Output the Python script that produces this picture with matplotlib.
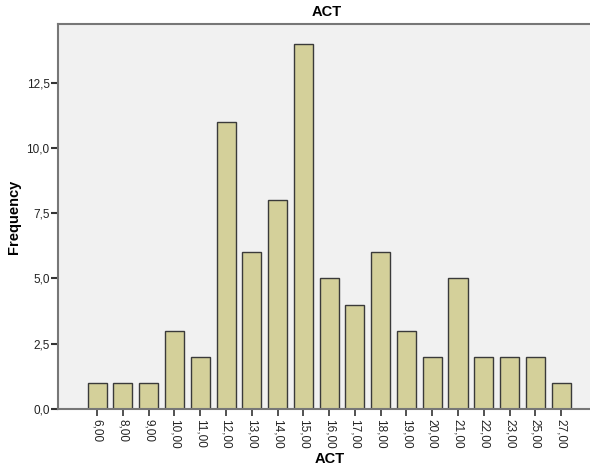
import matplotlib
matplotlib.use("Agg")
import matplotlib.pyplot as plt
from matplotlib.ticker import FuncFormatter, MultipleLocator
import numpy as np

plt.rcParams['font.family'] = ['Liberation Sans', 'DejaVu Sans']

categories = ["6,00", "8,00", "9,00", "10,00", "11,00", "12,00", "13,00", "14,00",
              "15,00", "16,00", "17,00", "18,00", "19,00", "20,00", "21,00",
              "22,00", "23,00", "25,00", "27,00"]
frequency = [1, 1, 1, 3, 2, 11, 6, 8, 14, 5, 4, 6, 3, 2, 5, 2, 2, 2, 1]
title = "ACT"
x_label = "ACT"
y_label = "Frequency"

fig = plt.figure(figsize=(5.9, 4.69), dpi=100)
ax = fig.add_axes([58/590, 60/469, 1 - 58/590 + 0.01, (409-24)/469])
ax.set_facecolor("#f1f1f1")

x = np.arange(len(categories))
ax.bar(x, frequency, width=0.74, color="#d4d09a", edgecolor="#3a3a3a", linewidth=1.0, zorder=2)

ax.set_xlim(-1.52, len(categories) - 1 + 1.35)
ax.set_ylim(0, 14.75)
ax.yaxis.set_major_locator(MultipleLocator(2.5))
ax.yaxis.set_major_formatter(FuncFormatter(lambda v, p: f"{v:.1f}".replace(".", ",")))
ax.set_xticks(x)
ax.set_xticklabels(categories, rotation=-90, fontsize=8.5, color="#222222")
ax.tick_params(axis='y', labelsize=8.5, labelcolor="#222222", length=5, width=1.5, color="#333333", pad=1)
ax.tick_params(axis='x', length=5, width=1.2, color="#333333", pad=2)

for s in ['left', 'bottom', 'top']:
    ax.spines[s].set_color("#777777")
    ax.spines[s].set_linewidth(1.5)
ax.spines['right'].set_visible(False)

ax.set_title(title, fontsize=10.5, fontweight='bold', pad=6)
ax.set_xlabel(x_label, fontsize=10.5, fontweight='bold')
ax.xaxis.set_label_coords((327 - 58) / 532, -(452 - 409) / 385)
ax.set_ylabel(y_label, fontsize=10.5, fontweight='bold')
ax.yaxis.set_label_coords(-(58 - 21) / 532, 0.5)

fig.savefig("out.png", dpi=100, facecolor="white")
